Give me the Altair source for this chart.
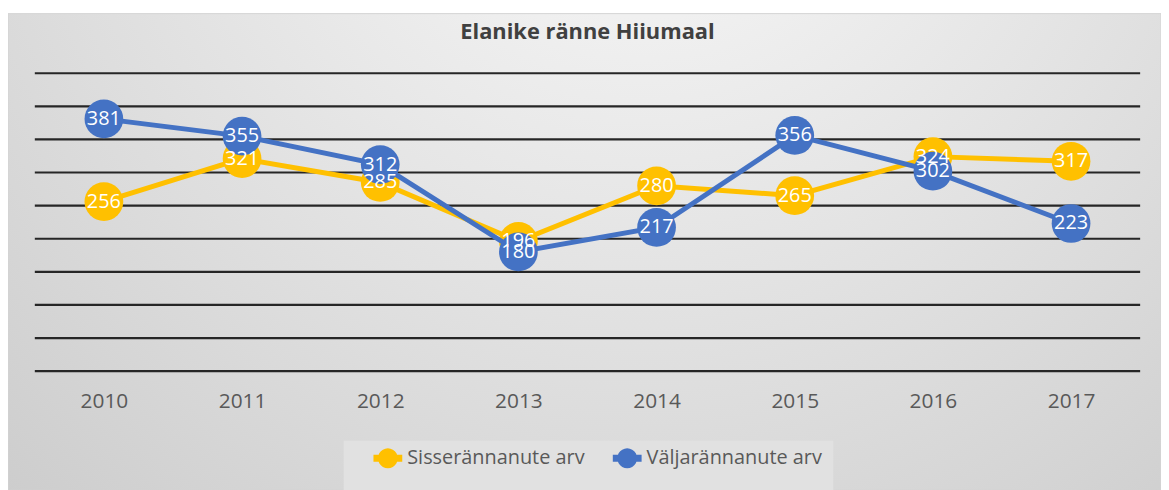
import math
import altair as alt
import pandas as pd

years = ["2010", "2011", "2012", "2013", "2014", "2015", "2016", "2017"]
sisse = [256, 321, 285, 196, 280, 265, 324, 317]
valja = [381, 355, 312, 180, 217, 356, 302, 223]
series_names = ["Sisserännanute arv", "Väljarännanute arv"]
series_colors = ["#FFC000", "#4472C4"]
grid_values = [0, 50, 100, 150, 200, 250, 300, 350, 400, 450]
title_text = "Elanike ränne Hiiumaal"

rows = []
for name, vals in zip(series_names, [sisse, valja]):
    for yr, v in zip(years, vals):
        rows.append({"year": yr, "series": name, "value": v})
df = pd.DataFrame(rows)

W, H = 1113, 300
FONT = "Open Sans"

x_enc = alt.X(
    "year:O",
    scale=alt.Scale(type="point", padding=0.5),
    axis=alt.Axis(title=None, domain=False, ticks=False, tickSize=0, labelAngle=0,
                  labelFontSize=21, labelColor="#595959", labelFont=FONT,
                  labelPadding=20, zindex=1),
)
y_scale = alt.Scale(domain=[0, 450], nice=False, zero=True)
y_enc = alt.Y("value:Q", scale=y_scale, axis=None)
color_scale = alt.Scale(domain=series_names, range=series_colors)

bg_fill = {
    "gradient": "radial",
    "x1": 0.55, "y1": 0.1, "r1": 0,
    "x2": 0.55, "y2": 0.1, "r2": 1.0,
    "stops": [
        {"offset": 0, "color": "#fbfbfb"},
        {"offset": 1, "color": "#c3c3c3"},
    ],
}
one = pd.DataFrame({"k": [0]})
bg = alt.Chart(one).mark_rect(fill=bg_fill, stroke="#d4d4d4", strokeWidth=1).encode(
    x=alt.value(-27), x2=alt.value(1134), y=alt.value(-60), y2=alt.value(420)
)
legend_box = alt.Chart(one).mark_rect(fill="#e1e1e1").encode(
    x=alt.value(311), x2=alt.value(804), y=alt.value(370), y2=alt.value(420)
)
grid = alt.Chart(pd.DataFrame({"value": grid_values})).mark_rule(
    color="#262626", strokeWidth=2.2
).encode(y=y_enc)

title = alt.Chart(pd.DataFrame({"t": [title_text]})).mark_text(
    fontSize=22, font=FONT, fontWeight="bold", color="#404040",
    align="center", baseline="alphabetic"
).encode(x=alt.value(W / 2), y=alt.value(-34), text="t:N")

# legend symbol: thick line with a round marker (polygon approximation)
r = 0.69
circle_pts = [(r * math.cos(2 * math.pi * i / 24), r * math.sin(2 * math.pi * i / 24)) for i in range(24)]
sym_path = "M-1,-0.24L1,-0.24L1,0.24L-1,0.24Z M" + "L".join(
    f"{px:.3f},{py:.3f}" for px, py in circle_pts) + "Z"

legend = alt.Legend(
    title=None, orient="none", legendX=341, legendY=373, direction="horizontal",
    symbolType=sym_path, symbolSize=841, symbolStrokeWidth=0,
    labelFontSize=20, labelColor="#595959", labelFont=FONT, labelLimit=400,
    columnPadding=28, labelOffset=5, zindex=1,
)

layers = [bg, legend_box, grid, title]
for name, col in zip(series_names, series_colors):
    base = alt.Chart(df).transform_filter(alt.datum.series == name)
    line = base.mark_line(strokeWidth=5).encode(
        x=x_enc, y=y_enc, color=alt.value(col),
    )
    pts = base.mark_circle(size=1520, opacity=1).encode(
        x=x_enc, y=y_enc,
        color=alt.Color("series:N", scale=color_scale, legend=legend),
    )
    layers += [line, pts]

labels = alt.Chart(df).mark_text(
    color="white", fontSize=20, font=FONT, align="center", baseline="middle"
).encode(x=x_enc, y=y_enc, text="value:Q")
layers.append(labels)

chart = alt.layer(*layers).properties(
    width=W, height=H,
    padding={"left": 27, "top": 64, "right": 21, "bottom": 118},
    autosize=alt.AutoSizeParams(type="none"),
).configure_view(stroke=None)

chart.save("out.html", embed_options={"renderer": "svg", "actions": False})
